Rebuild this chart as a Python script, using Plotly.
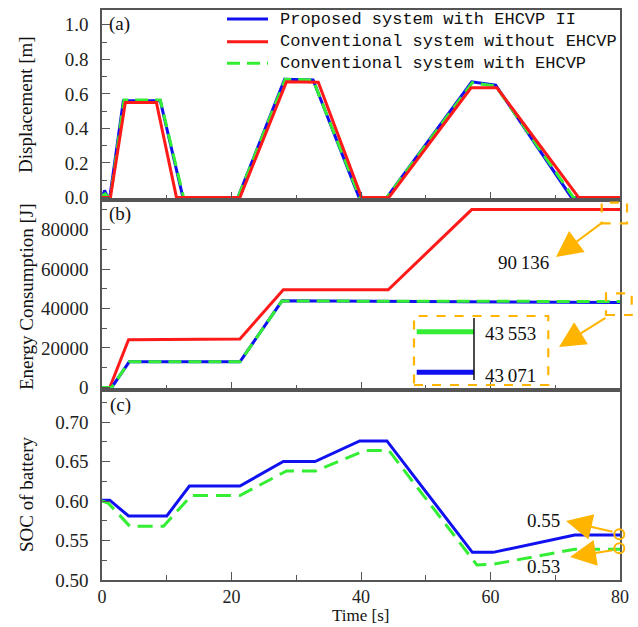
import plotly.graph_objects as go
from plotly.subplots import make_subplots

# ---------------- data ----------------
# (a) displacement [m]
disp_blue_t = [0, 0.4, 0.9, 1.2, 3.3, 9.0, 12.5, 21.0, 28.2, 32.6, 39.7, 44.0, 57.1, 60.8, 72.5, 80]
disp_blue = [0, 0.04, 0.0, 0.0, 0.56, 0.56, 0, 0, 0.685, 0.68, 0, 0, 0.67, 0.65, 0, 0]
disp_red_t = [0, 1.3, 3.6, 8.4, 11.5, 21.3, 28.5, 33.4, 40.1, 44.3, 57.0, 61.0, 73.6, 80]
disp_red = [0, 0, 0.55, 0.55, 0, 0, 0.67, 0.667, 0, 0, 0.635, 0.635, 0, 0]
disp_green_t = [0, 0.5, 1.0, 1.3, 3.4, 9.0, 12.6, 21.0, 28.3, 32.6, 39.8, 44.0, 57.2, 60.8, 72.8, 80]
disp_green = [0.01, 0.02, 0.0, 0.0, 0.565, 0.565, 0, 0, 0.685, 0.68, 0, 0, 0.665, 0.645, 0, 0]

# (b) energy consumption [J]
en_red_t = [0, 1.2, 4.1, 21.3, 28.0, 44.2, 57.1, 80]
en_red = [0, 0, 24200, 24500, 49500, 49500, 90136, 90136]
en_blue_t = [0, 1.5, 4.2, 21.3, 27.8, 80]
en_blue = [0, 0, 13000, 13000, 43900, 43071]
en_green_t = [0, 1.5, 4.2, 21.3, 27.8, 80]
en_green = [0, 0, 13000, 13000, 43800, 43553]

# (c) SOC of battery
soc_blue_t = [0, 1.2, 4.1, 10.0, 13.5, 21.3, 28.0, 32.9, 39.8, 44.0, 57.2, 60.4, 73.0, 80]
soc_blue = [0.601, 0.601, 0.581, 0.581, 0.619, 0.619, 0.65, 0.65, 0.676, 0.676, 0.535, 0.535, 0.557, 0.557]
soc_green_t = [0, 1.0, 4.3, 9.5, 13.8, 21.3, 28.5, 33.0, 40.6, 44.3, 57.9, 60.5, 73.0, 80]
soc_green = [0.600, 0.597, 0.568, 0.568, 0.607, 0.607, 0.638, 0.638, 0.664, 0.664, 0.519, 0.52, 0.539, 0.539]

names = ["Proposed system with EHCVP II", "Conventional system without EHCVP", "Conventional system with EHCVP"]
final_labels = ["90\u2009136", "43\u2009553", "43\u2009071", "0.55", "0.53"]

BLUE = "#1010F0"
RED = "#FF1A1A"
GREEN = "#33EE33"
ORANGE = "#FFB400"
AX = "#555555"
SERIF = "Liberation Serif"

W, H = 638, 627
ML, MR, MT, MB = 102, 18, 10, 47
PW, PH = W - ML - MR, H - MT - MB

def px(x):
    return (x - ML) / PW

def py(y):
    return (H - MB - y) / PH

fig = make_subplots(rows=3, cols=1, shared_xaxes=True, vertical_spacing=0)

LW = 3
DASH = "13px,7px"
# panel a
fig.add_trace(go.Scatter(x=disp_blue_t, y=disp_blue, mode="lines", name=names[0],
                         line=dict(color=BLUE, width=LW)), row=1, col=1)
fig.add_trace(go.Scatter(x=disp_green_t, y=disp_green, mode="lines", name=names[2],
                         line=dict(color=GREEN, width=LW, dash=DASH)), row=1, col=1)
fig.add_trace(go.Scatter(x=disp_red_t, y=disp_red, mode="lines", name=names[1],
                         line=dict(color=RED, width=LW)), row=1, col=1)
# panel b
fig.add_trace(go.Scatter(x=en_red_t, y=en_red, mode="lines", name=names[1],
                         line=dict(color=RED, width=LW)), row=2, col=1)
fig.add_trace(go.Scatter(x=en_blue_t, y=en_blue, mode="lines", name=names[0],
                         line=dict(color=BLUE, width=LW)), row=2, col=1)
fig.add_trace(go.Scatter(x=en_green_t, y=en_green, mode="lines", name=names[2],
                         line=dict(color=GREEN, width=LW, dash=DASH)), row=2, col=1)
# panel c
fig.add_trace(go.Scatter(x=soc_blue_t, y=soc_blue, mode="lines", name=names[0],
                         line=dict(color=BLUE, width=LW)), row=3, col=1)
fig.add_trace(go.Scatter(x=soc_green_t, y=soc_green, mode="lines", name=names[2],
                         line=dict(color=GREEN, width=LW, dash="15px,8px")), row=3, col=1)

tickfont = dict(family=SERIF, size=19, color="#222222")
common = dict(showline=True, linecolor=AX, linewidth=1.5, mirror=True, ticks="inside",
              ticklen=8, tickcolor=AX, tickwidth=1.2, showgrid=False, zeroline=False)
for r in (1, 2, 3):
    fig.update_xaxes(range=[0, 80], dtick=20, tick0=0,
                     minor=dict(dtick=10, ticks="inside", ticklen=5, tickcolor=AX, tickwidth=1.2),
                     showticklabels=(r == 3), ticklabelstandoff=0,
                     tickfont=dict(family=SERIF, size=18, color="#222222"),
                     **common, row=r, col=1)
fig.update_yaxes(range=[-0.015, 1.086], dtick=0.2, tickformat=".1f", tickfont=tickfont,
                 minor=dict(dtick=0.1, ticks="inside", ticklen=5, tickcolor=AX, tickwidth=1.2),
                 ticklabelstandoff=8, **common, row=1, col=1)
fig.update_yaxes(range=[-1300, 95000], dtick=20000, tickformat="d", tickfont=tickfont,
                 minor=dict(dtick=10000, ticks="inside", ticklen=5, tickcolor=AX, tickwidth=1.2),
                 ticklabelstandoff=8, **common, row=2, col=1)
fig.update_yaxes(range=[0.5, 0.7405], dtick=0.05, tickformat=".2f", tickfont=tickfont,
                 minor=dict(dtick=0.025, ticks="inside", ticklen=5, tickcolor=AX, tickwidth=1.2),
                 ticklabelstandoff=8, **common, row=3, col=1)

ann = []
def text(x, y, s, size=19, angle=0, xanchor="center", family=SERIF, yanchor="middle"):
    ann.append(dict(x=px(x), y=py(y), xref="paper", yref="paper", text=s, showarrow=False,
                    textangle=angle, xanchor=xanchor, yanchor=yanchor,
                    font=dict(family=family, size=size, color="#111111")))

text(26, 105, "Displacement [m]", angle=-90)
text(26, 297, "Energy Consumption [J]", angle=-90)
text(26, 494, "SOC of battery", angle=-90)
text(360, 627, "Time [s]", size=17, yanchor="bottom")
text(119, 24, "(a)")
text(120, 214, "(b)")
text(120, 405, "(c)")
text(523, 262, final_labels[0])
text(510, 333, final_labels[1])
text(510, 375, final_labels[2])
text(543, 520, final_labels[3])
text(543, 566, final_labels[4])

# legend (manual, to match the reference spacing)
leg_y = [19, 41.7, 63.3]
leg_colors = [BLUE, RED, GREEN]
leg_dash = ["solid", "solid", DASH]
for i in range(3):
    text(278, leg_y[i], names[i], size=17, xanchor="left", family="Liberation Mono")

def arrow(tx, ty, hx, hy):
    ann.append(dict(x=px(hx), y=py(hy), xref="paper", yref="paper", text="", showarrow=True,
                    ax=tx - hx, ay=ty - hy, axref="pixel", ayref="pixel",
                    arrowhead=2, arrowsize=2.6, arrowwidth=2, arrowcolor=ORANGE))

arrow(603, 222, 556, 257)
arrow(607, 317, 559, 347)
arrow(614, 532, 566, 521)
arrow(614, 550, 570, 557)
fig.update_layout(annotations=ann)

shapes = []
def rect(x0, y0, x1, y1):
    shapes.append(dict(type="rect", xref="paper", yref="paper", x0=px(x0), x1=px(x1),
                       y0=py(y1), y1=py(y0), line=dict(color=ORANGE, width=2.2, dash="dash")))

def seg(x0, y0, x1, y1, color, width, dash="solid"):
    shapes.append(dict(type="line", xref="paper", yref="paper", x0=px(x0), x1=px(x1),
                       y0=py(y0), y1=py(y1), line=dict(color=color, width=width, dash=dash)))

for i in range(3):
    seg(227, leg_y[i], 268, leg_y[i], leg_colors[i], 3, leg_dash[i])

rect(601.7, 202.7, 627, 223.3)
rect(606, 293.3, 631.7, 315)
rect(414, 316, 548.3, 385)
seg(416.7, 331.7, 474, 331.7, GREEN, 5)
seg(416.7, 372.3, 474, 372.3, BLUE, 5)
seg(474, 318, 474, 380, "#111111", 1.5)
for cy in (534.3, 548.3):
    shapes.append(dict(type="circle", xref="paper", yref="paper",
                       x0=px(614.3), x1=px(624.3), y0=py(cy + 5), y1=py(cy - 5),
                       line=dict(color=ORANGE, width=2)))
fig.update_layout(shapes=shapes)

fig.update_layout(
    width=W, height=H, margin=dict(l=ML, r=MR, t=MT, b=MB, autoexpand=False),
    paper_bgcolor="white", plot_bgcolor="white", showlegend=False,
)

fig.write_html("out.html")
